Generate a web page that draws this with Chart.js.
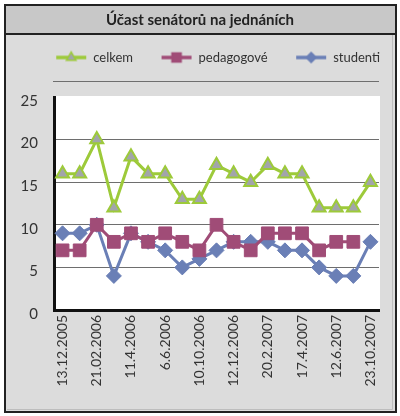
<!DOCTYPE html>
<html><head><meta charset="utf-8">
<script src="https://cdn.jsdelivr.net/npm/chart.js@4/dist/chart.umd.min.js"></script>
<style>html,body{margin:0;padding:0;background:#fff}canvas{display:block}</style>
</head><body>
<canvas id="c" width="400" height="416"></canvas>
<script>
const title = 'Účast senátorů na jednáních';
const categories = ['13.12.2005','','21.02.2006','','11.4.2006','','6.6.2006','','10.10.2006','','12.12.2006','','20.2.2007','','17.4.2007','','12.6.2007','','23.10.2007'];
const seriesNames = ['celkem','pedagogové','studenti'];
const celkem     = [16,16,20,12,18,16,16,13,13,17,16,15,17,16,16,12,12,12,15];
const pedagogove = [7,7,10,8,9,8,9,8,7,10,8,7,9,9,9,7,8,8,null];
const studenti   = [9,9,10,4,9,8,7,5,6,7,8,8,8,7,7,5,4,4,8];
const yTicks = [0,5,10,15,20,25];

const GREEN = '#9dca3a', TRI_FILL = '#a2a5aa', PLUM = '#a04c77', BLUE = '#6a7fb6';

// legend icon: canvas drawn centred on the legend box; line is placed left of the text
function legendIcon(color, fill, style, r) {
  const c = document.createElement('canvas');
  c.width = 60; c.height = 16;
  const g = c.getContext('2d');
  g.strokeStyle = color; g.lineWidth = 3.5;
  g.beginPath(); g.moveTo(19, 8); g.lineTo(49, 8); g.stroke();
  g.fillStyle = fill; g.strokeStyle = color; g.lineWidth = 1.5;
  Chart.helpers.drawPoint(g, {pointStyle: style, radius: r, rotation: 0, borderWidth: 1.5}, 34, 8);
  return c;
}
const icons = [
  legendIcon(GREEN, TRI_FILL, 'triangle', 5.5),
  legendIcon(PLUM, PLUM, 'rect', 6.5),
  legendIcon(BLUE, BLUE, 'rectRot', 5)
];

const framePlugin = {
  id: 'frame',
  beforeDraw(chart) {
    const ctx = chart.ctx, ca = chart.chartArea;
    ctx.save();
    ctx.fillStyle = '#ffffff'; ctx.fillRect(0, 0, 400, 416);
    ctx.fillStyle = '#dcdcdc'; ctx.fillRect(4, 4, 392, 408);
    ctx.fillStyle = '#c8c8c8'; ctx.fillRect(4, 4, 392, 30);
    ctx.strokeStyle = '#bdbdbd'; ctx.lineWidth = 1;
    ctx.beginPath(); ctx.moveTo(392.5, 35); ctx.lineTo(392.5, 409.5); ctx.lineTo(7, 409.5); ctx.stroke();
    ctx.strokeStyle = '#222'; ctx.lineWidth = 2;
    ctx.strokeRect(5, 5, 391, 407);
    ctx.beginPath(); ctx.moveTo(5, 34); ctx.lineTo(396, 34); ctx.stroke();
    ctx.strokeStyle = '#6e6e6e'; ctx.lineWidth = 1;
    ctx.beginPath(); ctx.moveTo(53, 81.5); ctx.lineTo(379, 81.5); ctx.stroke();
    ctx.fillStyle = '#ffffff';
    ctx.fillRect(ca.left, ca.top - 1, ca.right - ca.left + 1, ca.bottom - ca.top + 1);
    ctx.restore();
  }
};

new Chart(document.getElementById('c'), {
  type: 'line',
  data: {
    labels: categories,
    datasets: [
      {label: seriesNames[0], data: celkem, borderColor: GREEN, borderWidth: 3,
       pointStyle: 'triangle', pointRadius: 7.5, pointBackgroundColor: TRI_FILL,
       pointBorderColor: GREEN, pointBorderWidth: 2, tension: 0},
      {label: seriesNames[1], data: pedagogove, borderColor: PLUM, borderWidth: 3,
       pointStyle: 'rect', pointRadius: 9, pointBackgroundColor: PLUM,
       pointBorderColor: PLUM, pointBorderWidth: 1, tension: 0},
      {label: seriesNames[2], data: studenti, borderColor: BLUE, borderWidth: 3,
       pointStyle: 'rectRot', pointRadius: 7.5, pointBackgroundColor: BLUE,
       pointBorderColor: BLUE, pointBorderWidth: 1, tension: 0}
    ]
  },
  options: {
    responsive: false, animation: false, devicePixelRatio: 1,
    layout: {padding: 0},
    plugins: {
      title: {display: true, text: title, color: '#222',
              font: {family: 'Lato', size: 15, weight: 'bold', lineHeight: 1.2},
              padding: {top: 11, bottom: 2}},
      legend: {display: true, position: 'top', align: 'end',
        labels: {usePointStyle: true, pointStyleWidth: 39, padding: 20, color: '#333',
          font: {family: 'Lato', size: 13},
          generateLabels: (chart) => chart.data.datasets.map((ds, i) => ({
            text: ds.label, pointStyle: icons[i], fillStyle: 'transparent',
            strokeStyle: 'transparent', lineWidth: 0, hidden: false, datasetIndex: i, fontColor: '#333'
          }))
        }},
      tooltip: {enabled: false}
    },
    scales: {
      x: {type: 'category', offset: true,
        grid: {display: false, drawTicks: false},
        border: {display: true, color: '#111', width: 3},
        ticks: {autoSkip: false, maxRotation: 90, minRotation: 90, padding: 5, color: '#333',
                font: {family: 'Lato', size: 14}},
        afterFit: s => { s.height = 106; }
      },
      xTop: {type: 'category', position: 'top', labels: [''],
        grid: {display: false, drawTicks: false}, border: {display: false}, ticks: {display: false},
        afterFit: s => { s.height = 23; }
      },
      y: {min: 0, max: 25,
        afterBuildTicks: s => { s.ticks = yTicks.map(v => ({value: v})); },
        grid: {drawTicks: false, lineWidth: 1,
               color: c => (c.tick && (c.tick.value === 0 || c.tick.value === 25)) ? 'rgba(0,0,0,0)' : '#6e6e6e'},
        border: {display: true, color: '#111', width: 3},
        ticks: {padding: 16, labelOffset: 4, color: '#333', font: {family: 'Lato', size: 15}},
        afterFit: s => { s.width = 54; }
      },
      yRight: {position: 'right', display: true,
        grid: {display: false, drawTicks: false}, border: {display: false}, ticks: {display: false},
        afterFit: s => { s.width = 21; }
      }
    }
  },
  plugins: [framePlugin]
});
</script>
</body></html>
